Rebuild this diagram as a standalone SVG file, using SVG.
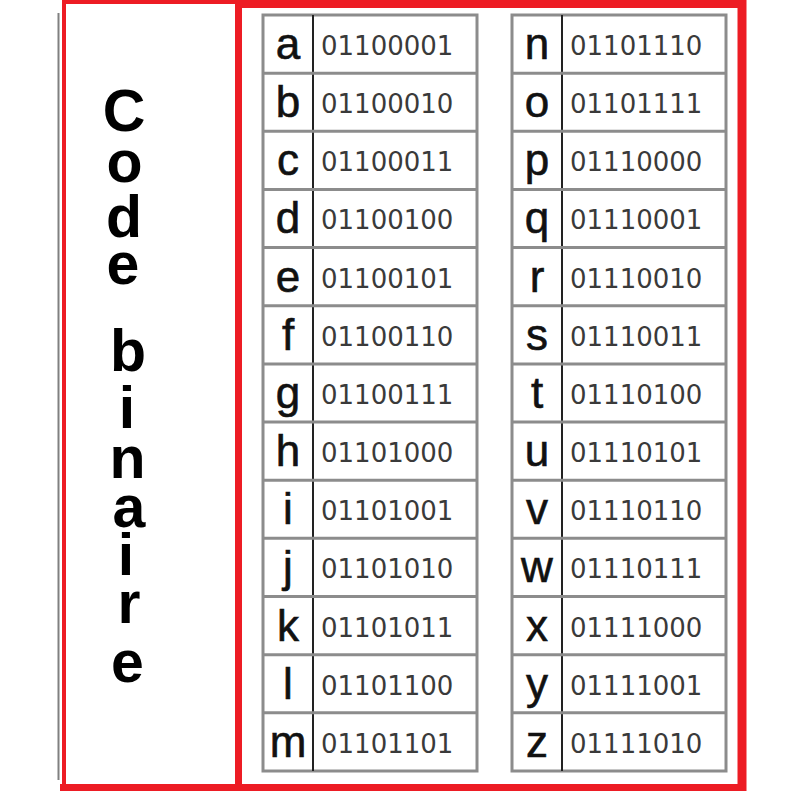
<svg xmlns="http://www.w3.org/2000/svg" width="800" height="800" viewBox="0 0 800 800">
<style>
.red{stroke:#ED1C24;fill:none}
.title{font-family:"Liberation Sans","DejaVu Sans",sans-serif;font-weight:bold;font-size:59px;fill:#000;text-anchor:middle}
.let{font-family:"Liberation Sans","DejaVu Sans",sans-serif;font-size:44px;fill:#111;text-anchor:middle;stroke:#111;stroke-width:0.6}
.bin{font-family:"DejaVu Sans","Liberation Sans",sans-serif;font-size:26px;fill:#3a3a3a}
.hl{stroke:#8c8c8c;stroke-width:3}
.vd{stroke:#222;stroke-width:2}
.frame{stroke:#8c8c8c;stroke-width:3;fill:none}
</style>
<rect width="800" height="800" fill="#fff"/>
<g id="frame">
<line x1="58.5" y1="13" x2="58.5" y2="780" stroke="#808080" stroke-width="2"/>
<line class="red" x1="62" y1="2" x2="240" y2="2" stroke-width="4"/>
<line class="red" x1="236" y1="4" x2="746" y2="4" stroke-width="8"/>
<line class="red" x1="64" y1="0" x2="64" y2="791" stroke-width="4"/>
<line class="red" x1="238.5" y1="0" x2="238.5" y2="791" stroke-width="7"/>
<line class="red" x1="742" y1="0" x2="742" y2="791" stroke-width="9"/>
<line class="red" x1="60" y1="787.5" x2="746" y2="787.5" stroke-width="7"/>
</g>
<g id="title">
<text class="title" x="124 124.5 124 123 125 128 127 127.5 129 126 129 127.5" y="131 182 237 284 330 371 428 478 527 575 623 682">Code binaire</text>
</g>
<g id="table-left">
<rect class="frame" x="263" y="15" width="214" height="756"/>
<g class="connectors">
<line class="vd" x1="313" y1="15" x2="313" y2="771"/>
<line class="hl" x1="263" y1="73.15" x2="477" y2="73.15"/>
<line class="hl" x1="263" y1="131.3" x2="477" y2="131.3"/>
<line class="hl" x1="263" y1="189.45" x2="477" y2="189.45"/>
<line class="hl" x1="263" y1="247.6" x2="477" y2="247.6"/>
<line class="hl" x1="263" y1="305.75" x2="477" y2="305.75"/>
<line class="hl" x1="263" y1="363.9" x2="477" y2="363.9"/>
<line class="hl" x1="263" y1="422.05" x2="477" y2="422.05"/>
<line class="hl" x1="263" y1="480.2" x2="477" y2="480.2"/>
<line class="hl" x1="263" y1="538.35" x2="477" y2="538.35"/>
<line class="hl" x1="263" y1="596.5" x2="477" y2="596.5"/>
<line class="hl" x1="263" y1="654.65" x2="477" y2="654.65"/>
<line class="hl" x1="263" y1="712.8" x2="477" y2="712.8"/>
</g>
<g id="row-a"><text class="let" x="288" y="59">a</text><text class="bin" x="321" y="55">01100001</text></g>
<g id="row-b"><text class="let" x="288" y="117.15">b</text><text class="bin" x="321" y="113.15">01100010</text></g>
<g id="row-c"><text class="let" x="288" y="175.3">c</text><text class="bin" x="321" y="171.3">01100011</text></g>
<g id="row-d"><text class="let" x="288" y="233.45">d</text><text class="bin" x="321" y="229.45">01100100</text></g>
<g id="row-e"><text class="let" x="288" y="291.6">e</text><text class="bin" x="321" y="287.6">01100101</text></g>
<g id="row-f"><text class="let" x="288" y="349.75">f</text><text class="bin" x="321" y="345.75">01100110</text></g>
<g id="row-g"><text class="let" x="288" y="407.9">g</text><text class="bin" x="321" y="403.9">01100111</text></g>
<g id="row-h"><text class="let" x="288" y="466.05">h</text><text class="bin" x="321" y="462.05">01101000</text></g>
<g id="row-i"><text class="let" x="288" y="524.2">i</text><text class="bin" x="321" y="520.2">01101001</text></g>
<g id="row-j"><text class="let" x="288" y="582.35">j</text><text class="bin" x="321" y="578.35">01101010</text></g>
<g id="row-k"><text class="let" x="288" y="640.5">k</text><text class="bin" x="321" y="636.5">01101011</text></g>
<g id="row-l"><text class="let" x="288" y="698.65">l</text><text class="bin" x="321" y="694.65">01101100</text></g>
<g id="row-m"><text class="let" x="288" y="756.8">m</text><text class="bin" x="321" y="752.8">01101101</text></g>
</g>
<g id="table-right">
<rect class="frame" x="512" y="15" width="214" height="756"/>
<g class="connectors">
<line class="vd" x1="562" y1="15" x2="562" y2="771"/>
<line class="hl" x1="512" y1="73.15" x2="726" y2="73.15"/>
<line class="hl" x1="512" y1="131.3" x2="726" y2="131.3"/>
<line class="hl" x1="512" y1="189.45" x2="726" y2="189.45"/>
<line class="hl" x1="512" y1="247.6" x2="726" y2="247.6"/>
<line class="hl" x1="512" y1="305.75" x2="726" y2="305.75"/>
<line class="hl" x1="512" y1="363.9" x2="726" y2="363.9"/>
<line class="hl" x1="512" y1="422.05" x2="726" y2="422.05"/>
<line class="hl" x1="512" y1="480.2" x2="726" y2="480.2"/>
<line class="hl" x1="512" y1="538.35" x2="726" y2="538.35"/>
<line class="hl" x1="512" y1="596.5" x2="726" y2="596.5"/>
<line class="hl" x1="512" y1="654.65" x2="726" y2="654.65"/>
<line class="hl" x1="512" y1="712.8" x2="726" y2="712.8"/>
</g>
<g id="row-n"><text class="let" x="537" y="59">n</text><text class="bin" x="570" y="55">01101110</text></g>
<g id="row-o"><text class="let" x="537" y="117.15">o</text><text class="bin" x="570" y="113.15">01101111</text></g>
<g id="row-p"><text class="let" x="537" y="175.3">p</text><text class="bin" x="570" y="171.3">01110000</text></g>
<g id="row-q"><text class="let" x="537" y="233.45">q</text><text class="bin" x="570" y="229.45">01110001</text></g>
<g id="row-r"><text class="let" x="537" y="291.6">r</text><text class="bin" x="570" y="287.6">01110010</text></g>
<g id="row-s"><text class="let" x="537" y="349.75">s</text><text class="bin" x="570" y="345.75">01110011</text></g>
<g id="row-t"><text class="let" x="537" y="407.9">t</text><text class="bin" x="570" y="403.9">01110100</text></g>
<g id="row-u"><text class="let" x="537" y="466.05">u</text><text class="bin" x="570" y="462.05">01110101</text></g>
<g id="row-v"><text class="let" x="537" y="524.2">v</text><text class="bin" x="570" y="520.2">01110110</text></g>
<g id="row-w"><text class="let" x="537" y="582.35">w</text><text class="bin" x="570" y="578.35">01110111</text></g>
<g id="row-x"><text class="let" x="537" y="640.5">x</text><text class="bin" x="570" y="636.5">01111000</text></g>
<g id="row-y"><text class="let" x="537" y="698.65">y</text><text class="bin" x="570" y="694.65">01111001</text></g>
<g id="row-z"><text class="let" x="537" y="756.8">z</text><text class="bin" x="570" y="752.8">01111010</text></g>
</g>
</svg>
